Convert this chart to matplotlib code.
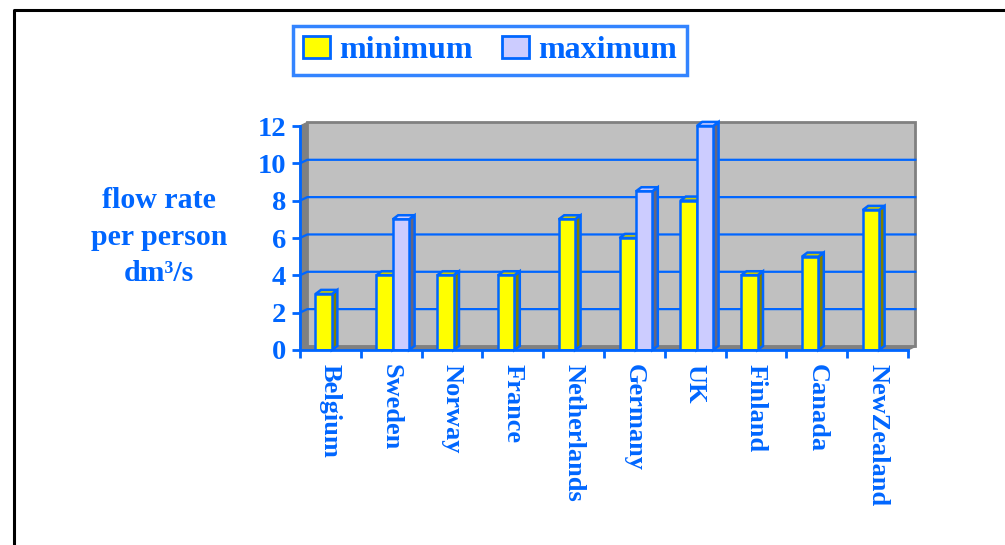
import numpy as np
import matplotlib
matplotlib.use("Agg")
from matplotlib import pyplot as plt
from matplotlib.patches import Polygon, Patch
from matplotlib.lines import Line2D

# data
countries = ['Belgium', 'Sweden', 'Norway', 'France', 'Netherlands',
             'Germany', 'UK', 'Finland', 'Canada', 'NewZealand']
minimum = [3, 4, 4, 4, 7, 6, 8, 4, 5, 7.5]
maximum = [None, 7, None, None, None, 8.5, 12, None, None, None]
y_ticks = [0, 2, 4, 6, 8, 10, 12]

blue = '#0066FF'
plt.rcParams['font.family'] = ['Liberation Serif', 'DejaVu Serif']
plt.rcParams['font.weight'] = 'bold'

fig = plt.figure(figsize=(10.05, 5.45), dpi=100)
ax = fig.add_axes([0.2985, 0.3578, 0.605, 0.411])
ax.set_xlim(-0.5, len(countries) - 0.5)
ax.set_ylim(0, 12)
ax.set_facecolor('none')

# depth offsets for the 3d look (data units)
wdx, wdy = 0.12, 0.19     # walls
bdx, bdy = 0.09, 0.22     # bars
x0, x1 = -0.5, len(countries) - 0.5

# back wall, side wall, floor
ax.add_patch(Polygon([(x0 + wdx, wdy), (x1 + wdx, wdy), (x1 + wdx, 12 + wdy), (x0 + wdx, 12 + wdy)],
                     closed=True, facecolor='#C0C0C0', edgecolor='#808080', lw=2, clip_on=False, zorder=0))
ax.add_patch(Polygon([(x0, 0), (x0 + wdx, wdy), (x0 + wdx, 12 + wdy), (x0, 12)],
                     closed=True, facecolor='#808080', edgecolor='#808080', lw=1, clip_on=False, zorder=0))
ax.add_patch(Polygon([(x0, 0), (x1, 0), (x1 + wdx, wdy), (x0 + wdx, wdy)],
                     closed=True, facecolor='#808080', edgecolor='#808080', lw=1, clip_on=False, zorder=0))
for v in y_ticks[1:-1]:
    ax.plot([x0, x0 + wdx, x1 + wdx], [v, v + wdy, v + wdy], color=blue, lw=1.6, clip_on=False, zorder=1)

w = 0.27


def bar3d(xc, h, front, top, side):
    xa, xb = xc - w / 2, xc + w / 2
    ax.add_patch(Polygon([(xb, 0), (xb + bdx, bdy), (xb + bdx, h + bdy), (xb, h)], closed=True,
                         facecolor=side, edgecolor=blue, lw=1.8, clip_on=False, zorder=3))
    ax.add_patch(Polygon([(xa, h), (xb, h), (xb + bdx, h + bdy), (xa + bdx, h + bdy)], closed=True,
                         facecolor=top, edgecolor=blue, lw=1.8, clip_on=False, zorder=3))
    ax.bar(xc, h, width=w, color=front, edgecolor=blue, linewidth=1.8, zorder=3)


for i in range(len(countries)):
    bar3d(i - 0.11, minimum[i], '#FFFF00', '#CCCC00', '#808000')
    if maximum[i] is not None:
        bar3d(i + 0.16, maximum[i], '#CCCCFF', '#CCCCFF', '#666680')

# axes look
for s in ['top', 'right']:
    ax.spines[s].set_visible(False)
for s in ['left', 'bottom']:
    ax.spines[s].set_color(blue)
    ax.spines[s].set_linewidth(2)
    ax.spines[s].set_zorder(5)

ax.set_yticks(y_ticks)
ax.set_yticklabels([str(v) for v in y_ticks])
ax.tick_params(axis='y', colors=blue, labelsize=20.5, length=6, width=2, pad=4)
ax.set_xticks(np.arange(len(countries) + 1) - 0.5)
ax.set_xticklabels([])
ax.set_xticks(np.arange(len(countries)), minor=True)
ax.set_xticklabels(countries, minor=True, rotation=-90, va='top', ha='center')
ax.tick_params(axis='x', which='major', colors=blue, length=6, width=2)
ax.tick_params(axis='x', which='minor', colors=blue, labelsize=19, length=0, pad=10)

fig.text(0.158, 0.565, 'flow rate\nper person\ndm³/s', color=blue, fontsize=21.5,
         ha='center', va='center', multialignment='center', linespacing=1.45)

handles = [Patch(facecolor='#FFFF00', edgecolor=blue, lw=2, label='minimum'),
           Patch(facecolor='#CCCCFF', edgecolor=blue, lw=2, label='maximum')]
leg = fig.legend(handles=handles, loc='upper left', bbox_to_anchor=(0.2915, 0.952), ncol=2,
                 fontsize=23, frameon=True, fancybox=False, handlelength=0.85, handleheight=0.7,
                 handletextpad=0.3, columnspacing=0.9, borderpad=0.3, borderaxespad=0)
leg.get_frame().set_edgecolor(blue)
leg.get_frame().set_linewidth(2.5)
for t in leg.get_texts():
    t.set_color(blue)

# outer border
fig.add_artist(Line2D([14 / 1005, 14 / 1005, 1], [0, 1 - 10 / 545, 1 - 10 / 545],
                      color='black', lw=2.2, transform=fig.transFigure))

fig.savefig('out.png', dpi=100)
